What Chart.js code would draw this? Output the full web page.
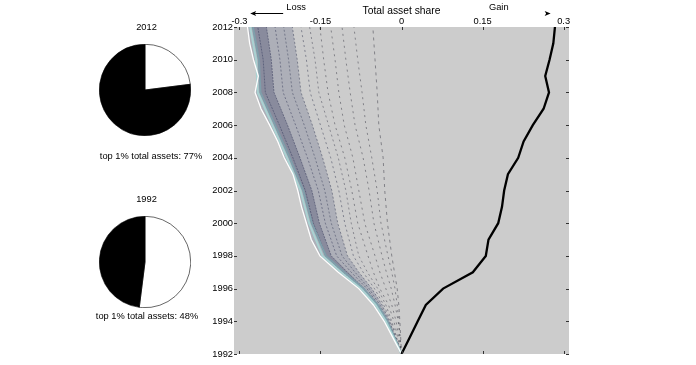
<!DOCTYPE html>
<html lang="en">
<head>
<meta charset="UTF-8">
<title>Total asset share</title>
<script src="https://cdn.jsdelivr.net/npm/chart.js"></script>
<style>
  body { margin: 0; background: #fff; }
  #wrap { position: relative; width: 696px; height: 365px; font-family: "Liberation Sans", Arial, sans-serif; }
  #wrap canvas { position: absolute; }
  .lbl { position: absolute; font-size: 9.3px; white-space: nowrap; transform: translate(-50%, -50%); color: #000; }
</style>
</head>
<body>
<div id="wrap">
  <canvas id="main" width="696" height="365" style="left:0;top:0"></canvas>
  <canvas id="pie2012" width="92" height="92" style="left:99px;top:44px"></canvas>
  <canvas id="pie1992" width="92" height="92" style="left:99px;top:216px"></canvas>
</div>
<script>
// --- data ---
const years = [1992, 1993, 1994, 1995, 1996, 1997, 1998, 1999, 2000, 2001, 2002,
               2003, 2004, 2005, 2006, 2007, 2008, 2009, 2010, 2011, 2012];
// cumulative gain of the top 1% (black line)
const gainShare = [0, 0.015, 0.030, 0.045, 0.077, 0.132, 0.156, 0.161, 0.179, 0.186, 0.190,
                   0.197, 0.216, 0.226, 0.243, 0.263, 0.273, 0.266, 0.274, 0.281, 0.284];
// outer edge of the loss fan
const lossEdge = [0, -0.016, -0.032, -0.052, -0.079, -0.117, -0.151, -0.167, -0.176, -0.185, -0.192,
                  -0.201, -0.217, -0.229, -0.244, -0.260, -0.271, -0.265, -0.274, -0.281, -0.285];

// loss lines of the fan, sampled on these years
const fanYears = [1992, 1994, 1995, 1996, 1997, 1998, 2000, 2002, 2004, 2006, 2008, 2010, 2012];
const fanEdge1 = [0, -0.029, -0.048, -0.075, -0.112, -0.146, -0.171, -0.187, -0.212, -0.239, -0.266, -0.269, -0.280];
const fanEdge2 = [0, -0.026, -0.044, -0.070, -0.106, -0.140, -0.166, -0.182, -0.207, -0.234, -0.261, -0.264, -0.275];
const fan12 = [0, -0.030, -0.049, -0.074, -0.108, -0.140, -0.163, -0.178, -0.201, -0.226, -0.252, -0.256, -0.266];
const fan11 = [0, -0.028, -0.046, -0.069, -0.100, -0.130, -0.152, -0.166, -0.188, -0.211, -0.236, -0.241, -0.250];
const fan10 = [0, -0.026, -0.043, -0.064, -0.093, -0.120, -0.141, -0.154, -0.174, -0.196, -0.219, -0.225, -0.234];
const fan9  = [0, -0.024, -0.040, -0.060, -0.086, -0.110, -0.130, -0.142, -0.160, -0.180, -0.202, -0.209, -0.218];
const fan8  = [0, -0.022, -0.036, -0.055, -0.079, -0.100, -0.118, -0.129, -0.146, -0.165, -0.186, -0.193, -0.202];
const fan7  = [0, -0.020, -0.033, -0.050, -0.071, -0.089, -0.105, -0.116, -0.131, -0.150, -0.169, -0.176, -0.186];
const fan6  = [0, -0.018, -0.029, -0.044, -0.063, -0.079, -0.093, -0.103, -0.117, -0.135, -0.153, -0.160, -0.170];
const fan5  = [0, -0.014, -0.024, -0.040, -0.052, -0.062, -0.081, -0.092, -0.105, -0.123, -0.136, -0.144, -0.151];
const fan4  = [0, -0.010, -0.018, -0.029, -0.040, -0.049, -0.068, -0.079, -0.090, -0.106, -0.116, -0.123, -0.131];
const fan3  = [0, -0.006, -0.012, -0.019, -0.028, -0.036, -0.051, -0.060, -0.071, -0.086, -0.095, -0.103, -0.110];
const fan2  = [0, -0.005, -0.008, -0.012, -0.018, -0.025, -0.038, -0.045, -0.055, -0.066, -0.073, -0.081, -0.088];
const fan1  = [0, -0.003, -0.005, -0.008, -0.013, -0.018, -0.026, -0.031, -0.034, -0.042, -0.045, -0.049, -0.053];

const xTicks = [-0.3, -0.15, 0, 0.15, 0.3];

const pieYears = [2012, 1992];
const topShare = [77, 48];
const restShare = [23, 52];

// --- drawing ---
const FONT = '"Liberation Sans", Arial, sans-serif';

function pts(ys, xs) {
  return ys.map((y, i) => ({x: xs[i], y: y}));
}

function fanLine(xs, color, width, dash) {
  return {
    data: pts(fanYears, xs),
    borderColor: color,
    borderWidth: width,
    borderDash: dash || [],
    pointRadius: 0,
    fill: false
  };
}

const datasets = [
  { data: pts(years, gainShare), borderColor: '#000', borderWidth: 2.3, pointRadius: 0, fill: false },
  { data: pts(years, lossEdge), borderColor: '#ffffff', borderWidth: 1.3, pointRadius: 0,
    fill: 9, backgroundColor: 'rgba(80,86,122,0.25)' },
  fanLine(fanEdge1, '#a9d2d2', 2),
  Object.assign(fanLine(fanEdge2, '#7f9fab', 2), { fill: 6, backgroundColor: 'rgba(56,60,92,0.32)' }),
  fanLine(fanEdge2, '#62707f', 1),
  fanLine(fan12, 'rgba(76,82,112,0.9)', 0.8, [2, 1]),
  fanLine(fan11, 'rgba(78,82,110,0.85)', 0.8, [2, 1]),
  fanLine(fan10, 'rgba(78,82,108,0.8)', 0.8, [2, 2]),
  fanLine(fan9, 'rgba(78,82,106,0.75)', 0.8, [2, 2]),
  fanLine(fan8, 'rgba(78,82,104,0.75)', 0.8, [2, 2]),
  fanLine(fan7, 'rgba(78,80,100,0.75)', 0.8, [2, 3]),
  fanLine(fan6, 'rgba(80,80,96,0.7)', 0.8, [2, 3]),
  fanLine(fan5, 'rgba(70,70,80,0.7)', 0.8, [2, 4]),
  fanLine(fan4, 'rgba(70,70,80,0.7)', 0.8, [2, 4]),
  fanLine(fan3, 'rgba(70,70,80,0.7)', 0.8, [2, 4]),
  fanLine(fan2, 'rgba(70,70,80,0.7)', 0.8, [2, 4]),
  fanLine(fan1, 'rgba(70,70,80,0.7)', 0.8, [3, 4])
];

const plotBg = {
  id: 'plotBg',
  beforeDraw(chart) {
    const {ctx, chartArea: a} = chart;
    ctx.save();
    ctx.fillStyle = '#cccccc';
    ctx.fillRect(a.left, a.top, a.right - a.left, a.bottom - a.top);
    ctx.restore();
  }
};

function arrowhead(ctx, px, py, dir) {
  ctx.beginPath();
  ctx.moveTo(px, py);
  ctx.lineTo(px - dir * 6, py - 2.5);
  ctx.lineTo(px - dir * 4.5, py);
  ctx.lineTo(px - dir * 6, py + 2.5);
  ctx.closePath();
  ctx.fill();
}

const marks = {
  id: 'marks',
  afterDraw(chart) {
    const {ctx, chartArea: a, scales: {x, y}} = chart;
    ctx.save();
    ctx.strokeStyle = '#333';
    ctx.lineWidth = 1;
    ctx.beginPath();
    // inward tick marks on all four sides
    y.ticks.forEach(t => {
      const py = Math.round(y.getPixelForValue(t.value)) + 0.5;
      ctx.moveTo(a.left, py); ctx.lineTo(a.left + 3, py);
      ctx.moveTo(a.right, py); ctx.lineTo(a.right - 3, py);
    });
    x.ticks.forEach(t => {
      const px = Math.round(x.getPixelForValue(t.value)) + 0.5;
      ctx.moveTo(px, a.top); ctx.lineTo(px, a.top + 3);
      ctx.moveTo(px, a.bottom); ctx.lineTo(px, a.bottom - 3);
    });
    ctx.stroke();

    // Loss / Gain notes above the axis
    ctx.fillStyle = '#000';
    ctx.strokeStyle = '#000';
    ctx.font = '9.3px ' + FONT;
    ctx.textAlign = 'center';
    ctx.textBaseline = 'middle';
    ctx.fillText('Loss', x.getPixelForValue(-0.195), 7);
    ctx.fillText('Gain', x.getPixelForValue(0.18), 7);
    const ay = 13.5;
    const l0 = x.getPixelForValue(-0.28);
    const l1 = x.getPixelForValue(-0.219);
    ctx.beginPath();
    ctx.moveTo(l0 + 4, ay);
    ctx.lineTo(l1, ay);
    ctx.stroke();
    arrowhead(ctx, l0, ay, -1);
    arrowhead(ctx, x.getPixelForValue(0.276), ay, 1);
    ctx.restore();
  }
};

new Chart(document.getElementById('main'), {
  type: 'line',
  data: { datasets: datasets },
  plugins: [plotBg, marks],
  options: {
    indexAxis: 'y',
    responsive: false,
    animation: false,
    events: [],
    devicePixelRatio: 1,
    layout: { padding: { left: 0, right: 127, top: 0, bottom: 11 } },
    plugins: {
      legend: { display: false },
      tooltip: { enabled: false },
      filler: { drawTime: 'beforeDatasetsDraw' }
    },
    scales: {
      x: {
        type: 'linear',
        position: 'top',
        min: -0.31,
        max: 0.31,
        afterBuildTicks: s => { s.ticks = xTicks.map(v => ({ value: v })); },
        afterFit: s => { s.height = 27; },
        ticks: { padding: 0, maxRotation: 0, autoSkip: false, color: '#000',
                 font: { size: 9.3, family: FONT }, callback: v => String(v) },
        grid: { display: false, drawTicks: false },
        border: { display: false },
        title: { display: true, text: 'Total asset share', color: '#000',
                 font: { size: 10.3, family: FONT }, padding: { top: 5, bottom: 0 } }
      },
      y: {
        type: 'linear',
        position: 'left',
        min: 1992,
        max: 2012,
        afterFit: s => { s.width = 234; },
        ticks: { stepSize: 2, padding: 1, autoSkip: false, color: '#000',
                 font: { size: 9.3, family: FONT }, callback: v => String(v) },
        grid: { display: false, drawTicks: false },
        border: { display: false }
      }
    }
  }
});

// pies
const titleY = [27, 199];
const noteY = [156, 316];
const noteX = [151, 147];
const wrap = document.getElementById('wrap');
pieYears.forEach((yr, i) => {
  new Chart(document.getElementById('pie' + yr), {
    type: 'pie',
    data: {
      labels: ['rest', 'top 1%'],
      datasets: [{
        data: [restShare[i], topShare[i]],
        backgroundColor: ['#ffffff', '#000000'],
        borderColor: '#000',
        borderWidth: 0.6
      }]
    },
    options: {
      responsive: false,
      animation: false,
      events: [],
      devicePixelRatio: 1,
      layout: { padding: 0 },
      plugins: { legend: { display: false }, tooltip: { enabled: false } }
    }
  });
  const t = document.createElement('div');
  t.className = 'lbl';
  t.style.left = '146.5px';
  t.style.top = titleY[i] + 'px';
  t.textContent = String(yr);
  wrap.appendChild(t);
  const n = document.createElement('div');
  n.className = 'lbl';
  n.style.left = noteX[i] + 'px';
  n.style.top = noteY[i] + 'px';
  n.textContent = 'top 1% total assets: ' + topShare[i] + '%';
  wrap.appendChild(n);
});
</script>
</body>
</html>
